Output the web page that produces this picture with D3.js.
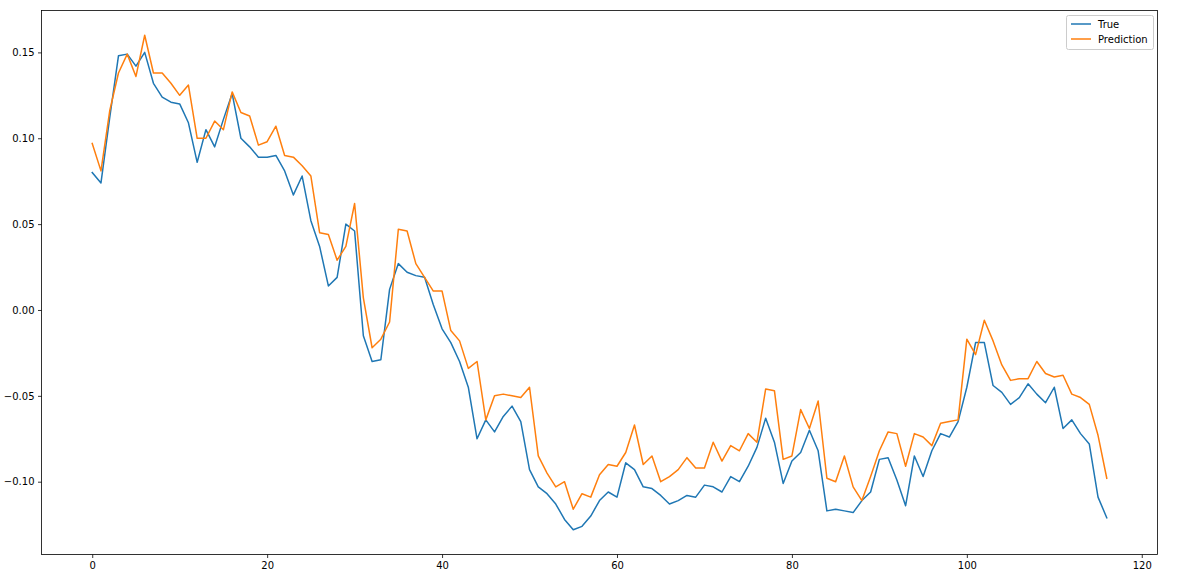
<!DOCTYPE html>
<html>
<head>
<meta charset="utf-8">
<script src="https://cdn.jsdelivr.net/npm/d3@7"></script>
<style>
  html, body { margin: 0; padding: 0; background: #fff; }
  svg { display: block; font-family: "DejaVu Sans", sans-serif; }
</style>
</head>
<body>
<svg id="chart" width="1177" height="587"></svg>
<script>
const seriesNames = ["True", "Prediction"];
const seriesColors = ["#1f77b4", "#ff7f0e"];
const trueValues = [
  0.080, 0.074, 0.112, 0.148, 0.149, 0.142, 0.150, 0.132, 0.124, 0.121,
  0.120, 0.109, 0.086, 0.105, 0.095, 0.111, 0.126, 0.100, 0.095, 0.089,
  0.089, 0.090, 0.081, 0.067, 0.078, 0.052, 0.037, 0.014, 0.019, 0.050,
  0.046, -0.015, -0.030, -0.029, 0.012, 0.027, 0.022, 0.020, 0.019, 0.003,
  -0.011, -0.019, -0.030, -0.045, -0.075, -0.064, -0.071, -0.062, -0.056, -0.065,
  -0.093, -0.103, -0.107, -0.113, -0.122, -0.128, -0.126, -0.120, -0.111, -0.106,
  -0.109, -0.089, -0.093, -0.103, -0.104, -0.108, -0.113, -0.111, -0.108, -0.109,
  -0.102, -0.103, -0.106, -0.097, -0.100, -0.091, -0.080, -0.063, -0.077, -0.101,
  -0.088, -0.083, -0.070, -0.082, -0.117, -0.116, -0.117, -0.118, -0.111, -0.106,
  -0.087, -0.086, -0.099, -0.114, -0.085, -0.097, -0.082, -0.072, -0.074, -0.065,
  -0.045, -0.019, -0.019, -0.044, -0.048, -0.055, -0.051, -0.043, -0.049, -0.054,
  -0.045, -0.069, -0.064, -0.072, -0.078, -0.109, -0.121
];
const predValues = [
  0.097, 0.081, 0.116, 0.138, 0.149, 0.136, 0.160, 0.138, 0.138, 0.132,
  0.125, 0.131, 0.100, 0.100, 0.110, 0.105, 0.127, 0.115, 0.113, 0.096,
  0.098, 0.107, 0.090, 0.089, 0.084, 0.078, 0.045, 0.044, 0.029, 0.037,
  0.062, 0.007, -0.022, -0.017, -0.007, 0.047, 0.046, 0.027, 0.019, 0.011,
  0.011, -0.012, -0.018, -0.034, -0.030, -0.064, -0.050, -0.049, -0.050, -0.051,
  -0.045, -0.085, -0.095, -0.103, -0.100, -0.116, -0.107, -0.109, -0.096, -0.090,
  -0.091, -0.083, -0.067, -0.090, -0.085, -0.100, -0.097, -0.093, -0.086, -0.092,
  -0.092, -0.077, -0.088, -0.079, -0.082, -0.072, -0.077, -0.046, -0.047, -0.087,
  -0.085, -0.058, -0.069, -0.053, -0.098, -0.100, -0.085, -0.103, -0.111, -0.097,
  -0.082, -0.071, -0.072, -0.091, -0.072, -0.074, -0.079, -0.066, -0.065, -0.064,
  -0.017, -0.026, -0.006, -0.018, -0.032, -0.041, -0.040, -0.040, -0.030, -0.037,
  -0.039, -0.038, -0.049, -0.051, -0.055, -0.073, -0.098
];
const xTicks = [0, 20, 40, 60, 80, 100, 120];
const yTicks = [-0.10, -0.05, 0.00, 0.05, 0.10, 0.15];

(function () {
const svg = d3.select("#chart");
svg.append("rect").attr("width", 1177).attr("height", 587).attr("fill", "#fff");

const pL = 41.5, pR = 1157.5, pT = 10.5, pB = 554.5;
const n = trueValues.length;
const all = trueValues.concat(predValues);
const ymin = d3.min(all), ymax = d3.max(all);
const ypad = (ymax - ymin) * 0.05;
const xpad = (n - 1) * 0.05;

const x = d3.scaleLinear().domain([-xpad, n - 1 + xpad]).range([pL, pR]);
const y = d3.scaleLinear().domain([ymin - ypad, ymax + ypad]).range([pB, pT]);

const fmtY = v => (v < 0 ? "\u2212" : "") + Math.abs(v).toFixed(2);

const xAxis = svg.append("g").attr("transform", `translate(0,${pB})`)
  .call(d3.axisBottom(x).tickValues(xTicks).tickSize(3.5).tickPadding(3.5).tickFormat(d3.format("d")));
const yAxis = svg.append("g").attr("transform", `translate(${pL},0)`)
  .call(d3.axisLeft(y).tickValues(yTicks).tickSize(3.5).tickPadding(3.5).tickFormat(fmtY));
[xAxis, yAxis].forEach(g => {
  g.select(".domain").remove();
  g.selectAll("line").attr("stroke", "#000").attr("stroke-width", 0.8);
  g.selectAll("text").attr("fill", "#000").style("font-size", "10px").style("font-family", "'DejaVu Sans', sans-serif");
});

svg.append("clipPath").attr("id", "clip").append("rect")
  .attr("x", pL).attr("y", pT).attr("width", pR - pL).attr("height", pB - pT);

const line = d3.line().x((d, i) => x(i)).y(d => y(d));
const plot = svg.append("g").attr("clip-path", "url(#clip)");
[trueValues, predValues].forEach((vals, k) => {
  plot.append("path").datum(vals).attr("d", line)
    .attr("fill", "none").attr("stroke", seriesColors[k]).attr("stroke-width", 1.5)
    .attr("stroke-linejoin", "round").attr("stroke-linecap", "square");
});

svg.append("rect").attr("x", pL).attr("y", pT).attr("width", pR - pL).attr("height", pB - pT)
  .attr("fill", "none").attr("stroke", "#000").attr("stroke-width", 0.8);

// legend
const lg = svg.append("g");
lg.append("rect").attr("x", 1066.5).attr("y", 15.5).attr("width", 87).attr("height", 34).attr("rx", 2)
  .attr("fill", "#fff").attr("fill-opacity", 0.8).attr("stroke", "#cccccc").attr("stroke-width", 1);
seriesNames.forEach((name, k) => {
  const yy = 24 + k * 15;
  lg.append("line").attr("x1", 1071).attr("x2", 1091).attr("y1", yy).attr("y2", yy)
    .attr("stroke", seriesColors[k]).attr("stroke-width", 1.5);
  lg.append("text").attr("x", 1098).attr("y", yy).attr("dy", "0.35em")
    .style("font-size", "10px").style("font-family", "'DejaVu Sans', sans-serif").text(name);
});
})();
</script>
</body>
</html>
